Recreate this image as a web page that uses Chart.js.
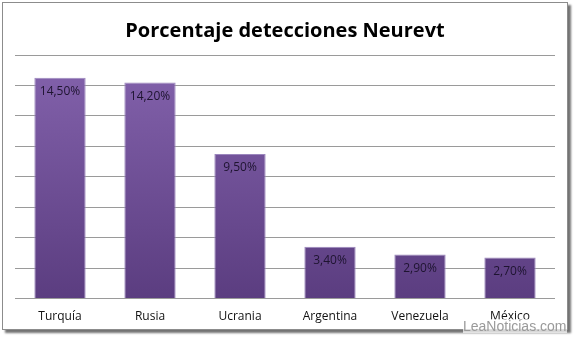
<!DOCTYPE html>
<html>
<head>
<meta charset="utf-8">
<script src="https://cdn.jsdelivr.net/npm/chart.js@4.4.0/dist/chart.umd.min.js"></script>
<style>
  html, body { margin: 0; padding: 0; background: #fff; overflow: hidden; }
  #frame {
    position: absolute; left: 2px; top: 2px; width: 564px; height: 326px;
    border: 1px solid #8c8c8c; background: #fff;
    box-shadow: 3px 3px 2px rgba(0,0,0,0.55);
  }
  #wrap { position: absolute; left: 0; top: 0; width: 564px; height: 324px; }
  #mark {
    position: absolute; left: 463px; top: 319px;
    font-family: "Liberation Sans", sans-serif; font-size: 14px; color: #9a9a9a;
    background: rgba(255,255,255,0.7); line-height: 14px;
  }
</style>
</head>
<body>
<div id="frame"><div id="wrap"><canvas id="chart"></canvas></div></div>
<div id="mark">LeaNoticias.com</div>
<script>
/* ================= DATA ================= */

const countries = ['Turquía', 'Rusia', 'Ucrania', 'Argentina', 'Venezuela', 'México'];
const detections = [14.5, 14.2, 9.5, 3.4, 2.9, 2.7];
const labelText = ['14,50%', '14,20%', '9,50%', '3,40%', '2,90%', '2,70%'];

/* ================= HELPERS ================= */

function barGradient(ctx) {
  const chart = ctx.chart;
  const area = chart.chartArea;
  if (!area) return '#7656a0';
  const g = chart.ctx.createLinearGradient(0, area.top, 0, area.bottom);
  g.addColorStop(0, '#8463ad');
  g.addColorStop(1, '#5b3d80');
  return g;
}

// value labels inside the top of each bar
const insideLabels = {
  id: 'insideLabels',
  afterDatasetsDraw(chart) {
    const c = chart.ctx;
    const meta = chart.getDatasetMeta(0);
    c.save();
    c.font = '12px "Open Sans", sans-serif';
    c.fillStyle = '#1e1430';
    c.textAlign = 'center';
    c.textBaseline = 'middle';
    meta.data.forEach((bar, i) => {
      c.fillText(labelText[i], bar.x, bar.y + 14);
    });
    c.restore();
  }
};

/* ================= CHART ================= */

new Chart(document.getElementById('chart'), {
  type: 'bar',
  data: {
    labels: countries,
    datasets: [{
      data: detections,
      backgroundColor: barGradient,
      borderColor: '#9b86bd',
      borderWidth: 1,
      categoryPercentage: 1,
      barPercentage: 0.57
    }]
  },
  options: {
    responsive: true,
    maintainAspectRatio: false,
    animation: false,
    layout: { padding: { left: 12, right: 12, top: 0, bottom: 0 } },
    plugins: {
      legend: { display: false },
      tooltip: { enabled: false },
      title: {
        display: true,
        text: 'Porcentaje detecciones Neurevt',
        color: '#000',
        font: { family: '"Open Sans", sans-serif', size: 20, weight: 'bold' },
        padding: { top: 16, bottom: 12 }
      }
    },
    scales: {
      x: {
        grid: { display: false },
        border: { display: false },
        ticks: {
          color: '#111',
          font: { family: '"Open Sans", sans-serif', size: 12 },
          padding: 3
        }
      },
      y: {
        min: 0,
        max: 16,
        ticks: { stepSize: 2, display: false },
        grid: { color: '#9a9a9a', lineWidth: 1, drawTicks: false },
        border: { display: false }
      }
    }
  },
  plugins: [insideLabels]
});
</script>
</body>
</html>
